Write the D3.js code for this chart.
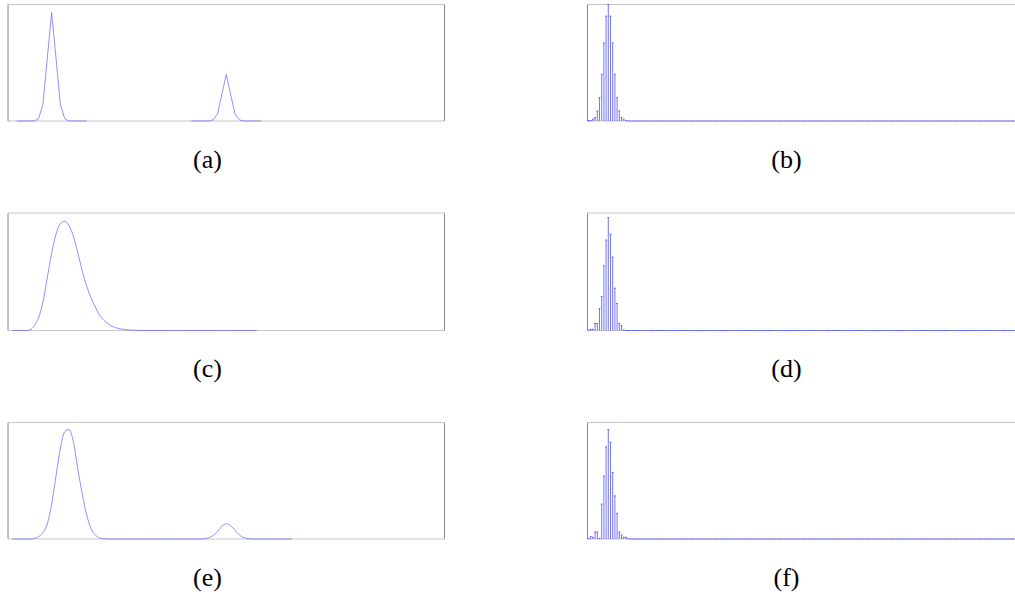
<!DOCTYPE html>
<html>
<head>
<meta charset="utf-8">
<script src="https://cdn.jsdelivr.net/npm/d3@7"></script>
<style>
  body { margin: 0; background: #fff; }
  svg { display: block; }
  .caption { font-family: "Liberation Serif", "DejaVu Serif", serif; font-size: 26px; fill: #000; }
</style>
</head>
<body>
<svg></svg>
<script>
// left column: curves sampled on an index axis 0..100
var aSeg1Start = 2;
var aSeg1 = [0, 0, 0, 0, 0, 0.02, 0.14, 0.54, 0.93, 0.54, 0.14, 0.02, 0, 0, 0, 0, 0];
var aSeg2Start = 42;
var aSeg2 = [0, 0, 0, 0, 0, 0.01, 0.06, 0.23, 0.40, 0.23, 0.06, 0.01, 0, 0, 0, 0, 0];

var cStart = 1;
var cValues = [0, 0, 0, 0, 0.005, 0.04, 0.11, 0.24, 0.45, 0.66, 0.82, 0.91, 0.93, 0.89, 0.80,
  0.66, 0.51, 0.38, 0.28, 0.20, 0.13, 0.085, 0.055, 0.033, 0.02, 0.012, 0.007, 0.004, 0.002,
  0, 0, 0, 0, 0, 0, 0, 0, 0, 0, 0, 0, 0, 0, 0, 0, 0, 0, 0, 0, 0, 0, 0, 0, 0, 0, 0, 0];

var eStart = 1;
var eValues = [0, 0, 0, 0, 0, 0.005, 0.02, 0.055, 0.13, 0.30, 0.54, 0.78, 0.92, 0.94, 0.83,
  0.60, 0.39, 0.21, 0.09, 0.035, 0.01, 0.003, 0, 0, 0, 0, 0, 0, 0, 0, 0, 0, 0, 0, 0, 0, 0, 0,
  0, 0, 0, 0, 0, 0, 0.002, 0.01, 0.03, 0.065, 0.11, 0.13, 0.115, 0.075, 0.035, 0.012, 0.003,
  0, 0, 0, 0, 0, 0, 0, 0, 0, 0];

// right column: stem plots, bins past the listed values are zero
var stemCount = 195;
var bValues = [0.003, 0.005, 0.015, 0.03, 0.086, 0.20, 0.40, 0.67, 0.90, 1.0, 0.90, 0.67, 0.40,
  0.20, 0.086, 0.03, 0.015, 0.005];
var dValues = [0.003, 0.008, 0.01, 0.06, 0.06, 0.185, 0.29, 0.55, 0.77, 0.96, 0.82, 0.625, 0.36,
  0.23, 0.06, 0.04, 0.005];
var fValues = [0.002, 0.02, 0.015, 0.06, 0.06, 0.003, 0.30, 0.54, 0.79, 0.94, 0.83, 0.57, 0.37,
  0.22, 0.06, 0.035, 0.015, 0.015, 0.003];

var captions = ["(a)", "(b)", "(c)", "(d)", "(e)", "(f)"];

var width = 1015;
var height = 594;
var rowTop = [4.5, 213, 422.5];
var rowBottom = [121, 330.5, 539];
var leftX = [8, 444.5];
var rightX = [587.5, 1020];
var captionX = [207.5, 786.5];
var captionY = [168, 377, 586];

var svg = d3.select("svg")
  .attr("width", width)
  .attr("height", height);

function frame(x0, x1, y0, y1) {
  var g = svg.append("g");
  g.append("line").attr("x1", x0).attr("x2", x1).attr("y1", y0).attr("y2", y0)
    .attr("stroke", "#c8c8c8").attr("stroke-width", 1.2);
  g.append("line").attr("x1", x0).attr("x2", x1).attr("y1", y1).attr("y2", y1)
    .attr("stroke", "#c8c8c8").attr("stroke-width", 1.2);
  g.append("line").attr("x1", x0).attr("x2", x0).attr("y1", y0).attr("y2", y1)
    .attr("stroke", "#888").attr("stroke-width", 1);
  g.append("line").attr("x1", x1).attr("x2", x1).attr("y1", y0).attr("y2", y1)
    .attr("stroke", "#888").attr("stroke-width", 1);
}

function curvePanel(row, segments, curve) {
  var x = d3.scaleLinear().domain([0, 100]).range(leftX);
  var y = d3.scaleLinear().domain([0, 1]).range([rowBottom[row], rowTop[row]]);
  frame(leftX[0], leftX[1], rowTop[row], rowBottom[row]);

  var line = d3.line()
    .x(d => x(d.x))
    .y(d => y(d.v))
    .curve(curve);

  segments.forEach(function(seg) {
    var pts = seg.values.map((v, i) => ({x: seg.start + i, v: v}));
    svg.append("path")
      .datum(pts)
      .attr("d", line)
      .attr("fill", "none")
      .attr("stroke", "#6060ff")
      .attr("stroke-width", 0.7);
  });
}

function stemPanel(row, values) {
  var x = d3.scaleLinear().domain([-0.45, stemCount - 0.45]).range([rightX[0], rightX[0] + 2.2 * stemCount]);
  var y = d3.scaleLinear().domain([0, 1]).range([rowBottom[row], rowTop[row]]);
  frame(rightX[0], rightX[1], rowTop[row], rowBottom[row]);

  var data = d3.range(stemCount).map(i => ({i: i, v: i < values.length ? values[i] : 0}));

  var g = svg.append("g");
  g.selectAll("line")
    .data(data.filter(d => d.v > 0))
    .enter()
    .append("line")
    .attr("x1", d => x(d.i))
    .attr("x2", d => x(d.i))
    .attr("y1", y(0))
    .attr("y2", d => y(d.v))
    .attr("stroke", "#5050ff")
    .attr("stroke-width", 0.8);

  g.selectAll("rect")
    .data(data)
    .enter()
    .append("rect")
    .attr("x", d => x(d.i) - 0.9)
    .attr("y", d => y(d.v) - 0.5)
    .attr("width", 1.8)
    .attr("height", 1)
    .attr("fill", "#5a5aff");
}

curvePanel(0, [{start: aSeg1Start, values: aSeg1}, {start: aSeg2Start, values: aSeg2}], d3.curveLinear);
curvePanel(1, [{start: cStart, values: cValues}], d3.curveMonotoneX);
curvePanel(2, [{start: eStart, values: eValues}], d3.curveMonotoneX);

stemPanel(0, bValues);
stemPanel(1, dValues);
stemPanel(2, fValues);

// captions
captions.forEach(function(t, i) {
  svg.append("text")
    .attr("class", "caption")
    .attr("x", captionX[i % 2])
    .attr("y", captionY[Math.floor(i / 2)])
    .attr("text-anchor", "middle")
    .text(t);
});
</script>
</body>
</html>
